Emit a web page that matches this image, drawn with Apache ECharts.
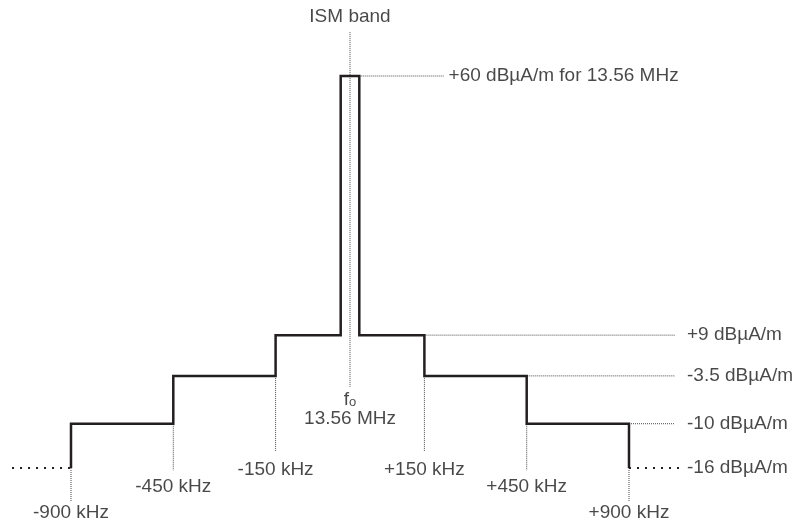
<!DOCTYPE html>
<html>
<head>
<meta charset="utf-8">
<script src="https://cdn.jsdelivr.net/npm/echarts@6/dist/echarts.min.js"></script>
<style>
  html, body { margin: 0; padding: 0; background: #fff; }
  #chart { width: 799px; height: 522px; }
</style>
</head>
<body>
<div id="chart"></div>
<script>
// Emission mask around the 13.56 MHz ISM band (field-strength limits in dBµA/m)
const centreFreqMHz = 13.56;
const bandLabel = 'ISM band';
const edgesKHz = [-900, -450, -150, -7, 7, 150, 450, 900];        // offsets from f0 where the limit steps
const maskLevels = [-16, -10, -3.5, 9, 60, 9, -3.5, -10, -16];     // limit below, between and above the edges
const markedEdgesKHz = [-900, -450, -150, 150, 450, 900];          // offsets that get a frequency label
const markedLevels = [60, 9, -3.5, -10, -16];                      // levels that get a limit label

// The mask is drawn schematically (not to scale): each value maps to a drawing unit
const xUnits = new Map([[-900, 0], [-450, 11], [-150, 22], [-7, 29], [0, 30], [7, 31], [150, 38], [450, 49], [900, 60]]);
const yUnits = new Map([[-16, 0], [-10, 1], [-3.5, 2.08], [9, 3], [60, 8.85]]);
const X = k => xUnits.get(k);
const Y = l => yUnits.get(l);

// Drawing extents and annotation layout, in drawing units
const layout = {
  xMin: -7.634, xMax: 78.28,
  yMin: -1.219, yMax: 10.566,
  dropEnd: { 150: 0.36, 450: -0.05, 900: -0.75 },
  freqLabelRow: { 150: -0.03, 450: -0.42, 900: -1.0 },
  centreLineTop: 9.84,
  centreLineBottom: 1.83,
  bandLabelRow: 10.18,
  centreLabelRow: 1.33,
  outerLeft: -6.34,
  peakLeaderEnd: 40.1,
  sideLeaderEnd: 64.95,
  outerRight: 66.0,
  peakLabelX: 40.6,
  sideLabelX: 66.24
};

const ink = '#231f20';
const textInk = '#1a1a1a';
const font = 'Arial, "Liberation Sans", Helvetica, sans-serif';
const fineDots = { color: '#4a4a4a', width: 1, type: [1, 1] };
const coarseDots = { color: ink, width: 2, type: [2, 6] };

const fmtKHz = v => (v > 0 ? '+' : '') + v + ' kHz';
const peakLevel = Math.max(...maskLevels);
const fmtLevel = v => (v > 0 ? '+' : '') + v + ' dBµA/m' + (v === peakLevel ? ' for ' + centreFreqMHz + ' MHz' : '');

// Stepped mask outline
const maskPts = [];
edgesKHz.forEach((e, i) => {
  maskPts.push([X(e), Y(maskLevels[i])], [X(e), Y(maskLevels[i + 1])]);
});

function lineSeries(points, style, z) {
  return {
    type: 'line', data: points, symbol: 'none', clip: false, silent: true,
    lineStyle: Object.assign({ cap: 'butt', join: 'miter' }, style), z: z || 2, animation: false
  };
}

const series = [];

// Centre-frequency marker
series.push(lineSeries([[X(0), layout.centreLineTop], [X(0), layout.centreLineBottom]], fineDots));

// Dotted drops below each labelled edge
markedEdgesKHz.forEach(e => {
  const i = edgesKHz.indexOf(e);
  const lower = Math.min(maskLevels[i], maskLevels[i + 1]);
  series.push(lineSeries([[X(e), Y(lower)], [X(e), layout.dropEnd[Math.abs(e)]]], fineDots));
});

// Leaders from the upper side of the mask to the limit labels
for (let i = 4; i < edgesKHz.length; i++) {
  const lvl = maskLevels[i];
  const end = lvl === peakLevel ? layout.peakLeaderEnd : layout.sideLeaderEnd;
  series.push(lineSeries([[X(edgesKHz[i]), Y(lvl)], [end, Y(lvl)]], fineDots));
}
// Outermost limit continues beyond ±900 kHz
const outer = maskLevels[maskLevels.length - 1];
series.push(lineSeries([[layout.outerLeft, Y(outer)], [X(edgesKHz[0]), Y(outer)]], coarseDots));
series.push(lineSeries([[X(edgesKHz[edgesKHz.length - 1]), Y(outer)], [layout.outerRight, Y(outer)]], coarseDots));

// Mask outline on top
series.push(lineSeries(maskPts, { color: ink, width: 2.5 }, 5));

// Text labels
const labelItems = [];
markedEdgesKHz.forEach(e => {
  labelItems.push({ name: fmtKHz(e), value: [X(e), layout.freqLabelRow[Math.abs(e)]], label: { position: 'inside' } });
});
markedLevels.forEach(l => {
  const x = l === peakLevel ? layout.peakLabelX : layout.sideLabelX;
  labelItems.push({ name: fmtLevel(l), value: [x, Y(l)], label: { position: 'right', distance: 0 } });
});
labelItems.push({ name: bandLabel, value: [X(0), layout.bandLabelRow], label: { position: 'inside' } });
labelItems.push({
  name: 'f0', value: [X(0), layout.centreLabelRow],
  label: {
    position: 'inside',
    formatter: '{f|f}{o|o}\n{m|' + centreFreqMHz + ' MHz}',
    rich: {
      f: { fontSize: 19, fontFamily: font, color: textInk, lineHeight: 19 },
      o: { fontSize: 13, fontFamily: font, color: textInk, verticalAlign: 'bottom', lineHeight: 19, padding: [7, 0, 0, 0] },
      m: { fontSize: 19, fontFamily: font, color: textInk, lineHeight: 19 }
    }
  }
});

series.push({
  type: 'scatter', symbolSize: 0, clip: false, silent: true, animation: false, z: 6,
  data: labelItems,
  label: { show: true, formatter: '{b}', color: textInk, fontSize: 19, fontFamily: font }
});

const chart = echarts.init(document.getElementById('chart'), null, { renderer: 'canvas' });
chart.setOption({
  backgroundColor: '#ffffff',
  animation: false,
  grid: { left: 0, right: 0, top: 0, bottom: 0 },
  xAxis: { type: 'value', min: layout.xMin, max: layout.xMax, show: false },
  yAxis: { type: 'value', min: layout.yMin, max: layout.yMax, show: false },
  series: series
});
</script>
</body>
</html>
